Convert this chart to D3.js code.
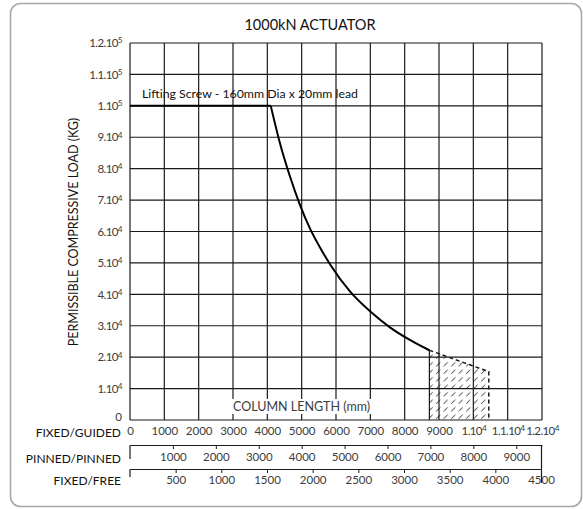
<!DOCTYPE html>
<html lang="en">

<head>
    <meta charset="UTF-8">
    <title>1000kN Actuator</title>
    <script src="https://d3js.org/d3.v7.min.js"></script>
    <style>
        body { margin: 0; background: #fff; }
        text { font-family: Lato, "Open Sans", sans-serif; }
    </style>
</head>

<body>
    <div class="chart"></div>

    <script>
        const w = 583;
        const h = 509;

        // grid ticks and labels
        const xTicks = [0, 1000, 2000, 3000, 4000, 5000, 6000, 7000, 8000, 9000, 10000, 11000, 12000];
        const xTickLabels = ["0", "1000", "2000", "3000", "4000", "5000", "6000", "7000", "8000", "9000", "1.10^4", "1.1.10^4", "1.2.10^4"];
        const yTicks = [0, 10000, 20000, 30000, 40000, 50000, 60000, 70000, 80000, 90000, 100000, 110000, 120000];
        const yTickLabels = ["0", "1.10^4", "2.10^4", "3.10^4", "4.10^4", "5.10^4", "6.10^4", "7.10^4", "8.10^4", "9.10^4", "1.10^5", "1.1.10^5", "1.2.10^5"];
        const pinnedTicks = [1000, 2000, 3000, 4000, 5000, 6000, 7000, 8000, 9000];
        const freeTicks = [500, 1000, 1500, 2000, 2500, 3000, 3500, 4000, 4500];

        // screw limit (flat) and buckling curve
        const plateauLength = [0, 4100];
        const plateauLoad = [100000, 100000];
        const curveLength = [4100, 4370, 4660, 4950, 5240, 5530, 5830, 6400, 7000, 7570, 8150, 8720];
        const curveLoad = [100000, 88000, 77500, 68500, 61000, 55000, 49500, 41000, 34500, 29500, 25500, 22200];
        // hatched zone top edge
        const zoneLength = [8720, 10450];
        const zoneLoad = [22200, 15400];

        const x = d3.scaleLinear().domain([0, 12000]).range([130, 542]);
        const y = d3.scaleLinear().domain([0, 120000]).range([420, 43]);
        const xPinned = d3.scaleLinear().domain([0, 9600]).range([130, 542]);
        const xFree = d3.scaleLinear().domain([0, 4500]).range([130, 541]);

        const svg = d3.select(".chart")
            .append("svg")
            .attr("width", w)
            .attr("height", h);

        // outer frame
        svg.append("rect")
            .attr("x", 10.5).attr("y", 3.5)
            .attr("width", 571).attr("height", 503)
            .attr("rx", 10)
            .attr("fill", "#fff")
            .attr("stroke", "#a8a8a8")
            .attr("stroke-width", 1.6);

        // hatch pattern (short "/" dashes)
        const pat = svg.append("defs").append("pattern")
            .attr("id", "hatch")
            .attr("patternUnits", "userSpaceOnUse")
            .attr("width", 7.5).attr("height", 7.5);
        pat.append("line")
            .attr("x1", 1.2).attr("y1", 6.3).attr("x2", 5.2).attr("y2", 2.3)
            .attr("stroke", "#111").attr("stroke-width", 0.9);

        const ink = "#1a1a1a";
        const labelColor = "#3c3c3c";

        // grid
        svg.append("g").selectAll("line")
            .data(xTicks)
            .join("line")
            .attr("x1", d => x(d)).attr("x2", d => x(d))
            .attr("y1", y(0)).attr("y2", y(120000))
            .attr("stroke", ink).attr("stroke-width", 1.2);

        svg.append("g").selectAll("line")
            .data(yTicks)
            .join("line")
            .attr("x1", x(0)).attr("x2", x(12000))
            .attr("y1", d => y(d)).attr("y2", d => y(d))
            .attr("stroke", ink).attr("stroke-width", 1.2);

        // superscript helper: "1.10^4" -> 1.10 + raised 4
        function supLabel(sel, labels) {
            sel.each(function (d, i) {
                const t = d3.select(this);
                const parts = labels[i].split("^");
                t.text(null);
                t.append("tspan").text(parts[0]);
                if (parts[1]) {
                    t.attr("letter-spacing", -0.6);
                    t.append("tspan").attr("dy", "-0.45em").attr("font-size", "0.72em").text(parts[1]);
                }
            });
        }

        // y axis labels
        const yAxis = svg.append("g")
            .attr("transform", `translate(${x(0)},0)`)
            .call(d3.axisLeft(y).tickValues(yTicks).tickSize(0).tickPadding(8));
        yAxis.select(".domain").remove();
        yAxis.selectAll("text")
            .attr("font-size", 11.5)
            .attr("fill", labelColor)
            .call(supLabel, yTickLabels);
        yAxis.selectAll(".tick").filter(d => d === 0).select("text").attr("y", -3);

        // fixed/guided labels under the grid
        const xAxis = svg.append("g")
            .attr("transform", `translate(0,${y(0)})`)
            .call(d3.axisBottom(x).tickValues(xTicks).tickSize(0).tickPadding(7));
        xAxis.select(".domain").remove();
        xAxis.selectAll("text")
            .attr("font-size", 11.5)
            .attr("fill", labelColor)
            .call(supLabel, xTickLabels);

        // pinned/pinned scale
        const pAxis = svg.append("g")
            .attr("transform", "translate(0,445)")
            .call(d3.axisBottom(xPinned).tickValues(pinnedTicks).tickSize(4).tickSizeOuter(0).tickPadding(4).tickFormat(d => d));
        pAxis.select(".domain").attr("stroke", ink).attr("stroke-width", 1.2);
        pAxis.selectAll(".tick line").attr("stroke", ink);
        pAxis.selectAll("text").attr("font-size", 11.5).attr("fill", labelColor);

        // fixed/free scale
        const fAxis = svg.append("g")
            .attr("transform", "translate(0,469)")
            .call(d3.axisBottom(xFree).tickValues(freeTicks).tickSize(4).tickSizeOuter(0).tickPadding(3).tickFormat(d => d));
        fAxis.select(".domain").attr("stroke", ink).attr("stroke-width", 1.2);
        fAxis.selectAll(".tick line").attr("stroke", ink);
        fAxis.selectAll("text").attr("font-size", 11.5).attr("fill", labelColor);

        // end brackets of the lower scales
        const brackets = [[x(0), 445, 459], [x(0), 469, 477], [x(12000) - 0.5, 445, 483]];
        svg.append("g").selectAll("line")
            .data(brackets)
            .join("line")
            .attr("x1", d => d[0]).attr("x2", d => d[0])
            .attr("y1", d => d[1]).attr("y2", d => d[2])
            .attr("stroke", ink).attr("stroke-width", 1.2);

        // scale names
        svg.append("g").selectAll("text")
            .data([["FIXED/GUIDED", 437], ["PINNED/PINNED", 463], ["FIXED/FREE", 485]])
            .join("text")
            .attr("x", 121).attr("y", d => d[1])
            .attr("text-anchor", "end")
            .attr("font-size", 12)
            .attr("fill", "#111")
            .text(d => d[0]);

        // column length label with white box
        const clx = 233;
        svg.append("rect")
            .attr("x", clx - 2).attr("y", 399)
            .attr("width", 144).attr("height", 15)
            .attr("fill", "#fff");
        svg.append("text")
            .attr("x", clx).attr("y", 411)
            .attr("font-size", 12.5)
            .attr("fill", labelColor)
            .text("COLUMN LENGTH (mm)");

        // hatched zone
        const zone = [[zoneLength[0], 0]]
            .concat(zoneLength.map((d, i) => [d, zoneLoad[i]]))
            .concat([[zoneLength[1], 0]]);
        svg.append("path")
            .attr("d", d3.line().x(d => x(d[0])).y(d => y(d[1]))(zone) + "Z")
            .attr("fill", "url(#hatch)")
            .attr("stroke", "none");
        svg.append("line")
            .attr("x1", x(zoneLength[0])).attr("x2", x(zoneLength[0]))
            .attr("y1", y(0)).attr("y2", y(zoneLoad[0]))
            .attr("stroke", ink).attr("stroke-width", 1.2);
        svg.append("path")
            .attr("d", d3.line().x(d => x(d[0])).y(d => y(d[1]))(zone.slice(1)))
            .attr("fill", "none")
            .attr("stroke", ink).attr("stroke-width", 1.5)
            .attr("stroke-dasharray", "4,3");

        // screw limit and buckling curve
        svg.append("path")
            .attr("d", d3.line().x(d => x(d)).y((d, i) => y(plateauLoad[i]))(plateauLength))
            .attr("fill", "none")
            .attr("stroke", "#000").attr("stroke-width", 2);
        svg.append("path")
            .attr("d", d3.line().curve(d3.curveMonotoneX).x(d => x(d)).y((d, i) => y(curveLoad[i]))(curveLength))
            .attr("fill", "none")
            .attr("stroke", "#000").attr("stroke-width", 2);

        svg.append("text")
            .attr("x", 142).attr("y", 98)
            .attr("font-size", 12.3)
            .attr("fill", "#111")
            .text("Lifting Screw - 160mm Dia x 20mm lead");

        // title
        svg.append("text")
            .attr("x", 310).attr("y", 30)
            .attr("text-anchor", "middle")
            .attr("font-size", 14.5)
            .attr("fill", "#111")
            .text("1000kN ACTUATOR");

        // y label
        svg.append("text")
            .attr("transform", "translate(78,232) rotate(-90)")
            .attr("text-anchor", "middle")
            .attr("font-size", 12.5)
            .attr("fill", "#111")
            .text("PERMISSIBLE COMPRESSIVE LOAD (KG)");
    </script>
</body>

</html>
